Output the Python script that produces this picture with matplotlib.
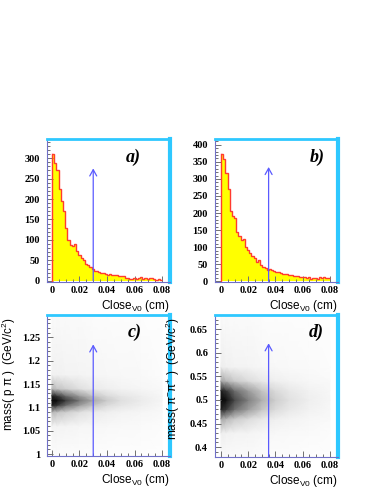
import numpy as np
import matplotlib
matplotlib.use('Agg')
import matplotlib.pyplot as plt
from matplotlib.ticker import MultipleLocator, FixedLocator, FixedFormatter

# histogram of Close_V0, 50 bins between 0 and 0.08 cm
hist_edges = np.linspace(0, 0.08, 51)
hist_a = [310, 289, 271, 225, 195, 170, 128, 100, 88, 86,
          90, 72, 63, 56, 52, 40, 38, 33, 30, 25,
          24, 22, 20, 18, 17, 15, 16, 14, 13, 14,
          12, 11, 12, 8, 6, 5, 5, 6, 5, 7,
          9, 5, 6, 4, 7, 6, 5, 3, 4, 2]
hist_b = [373, 358, 318, 270, 205, 190, 185, 145, 132, 122,
          125, 100, 92, 82, 75, 68, 58, 62, 48, 42,
          38, 33, 35, 32, 30, 27, 28, 24, 22, 20,
          21, 19, 18, 17, 15, 16, 14, 12, 14, 10,
          12, 8, 9, 11, 8, 13, 9, 12, 10, 10]

# scatter density (darkness 0..1)
dens_x = [0, 0.004, 0.01, 0.02, 0.03, 0.04, 0.05, 0.065, 0.08]
dens_y_c = [0.995, 1.06, 1.09, 1.105, 1.115, 1.125, 1.14, 1.17, 1.30]
dens_c = [
    [0.03, 0.03, 0.03, 0.03, 0.02, 0.02, 0.02, 0.02, 0.01],
    [0.10, 0.10, 0.09, 0.08, 0.07, 0.06, 0.05, 0.04, 0.03],
    [0.40, 0.35, 0.30, 0.22, 0.16, 0.13, 0.10, 0.08, 0.05],
    [0.88, 0.82, 0.65, 0.48, 0.34, 0.24, 0.18, 0.13, 0.07],
    [0.97, 0.95, 0.82, 0.62, 0.44, 0.32, 0.22, 0.15, 0.08],
    [0.88, 0.82, 0.65, 0.48, 0.34, 0.24, 0.18, 0.13, 0.07],
    [0.40, 0.35, 0.30, 0.22, 0.16, 0.13, 0.10, 0.08, 0.05],
    [0.12, 0.12, 0.10, 0.09, 0.08, 0.07, 0.06, 0.05, 0.03],
    [0.04, 0.04, 0.04, 0.04, 0.03, 0.03, 0.03, 0.02, 0.02],
]
dens_y_d = [0.379, 0.43, 0.46, 0.48, 0.50, 0.52, 0.54, 0.57, 0.68]
dens_d = [
    [0.04, 0.04, 0.04, 0.04, 0.03, 0.03, 0.03, 0.02, 0.02],
    [0.14, 0.12, 0.10, 0.09, 0.07, 0.06, 0.05, 0.04, 0.03],
    [0.45, 0.40, 0.32, 0.24, 0.17, 0.13, 0.10, 0.07, 0.05],
    [0.88, 0.82, 0.64, 0.48, 0.34, 0.24, 0.17, 0.11, 0.07],
    [0.97, 0.94, 0.78, 0.58, 0.42, 0.30, 0.21, 0.13, 0.08],
    [0.88, 0.82, 0.64, 0.48, 0.34, 0.24, 0.17, 0.11, 0.07],
    [0.45, 0.40, 0.32, 0.24, 0.17, 0.13, 0.10, 0.07, 0.05],
    [0.14, 0.12, 0.10, 0.09, 0.07, 0.06, 0.05, 0.04, 0.03],
    [0.04, 0.04, 0.04, 0.04, 0.03, 0.03, 0.03, 0.02, 0.02],
]

# cut positions (arrows)
cut_x = [0.030, 0.035, 0.030, 0.035]
cut_top = [275, 335, 1.235, 0.62]

x_ticks = [0, 0.02, 0.04, 0.06, 0.08]
x_ticklabels = ['0', '0.02', '0.04', '0.06', '0.08']
y_ticks_a = [0, 50, 100, 150, 200, 250, 300]
y_ticks_b = [0, 50, 100, 150, 200, 250, 300, 350, 400]
y_ticks_c = [1, 1.05, 1.1, 1.15, 1.2, 1.25]
y_ticklabels_c = ['1', '1.05', '1.1', '1.15', '1.2', '1.25']
y_ticks_d = [0.4, 0.45, 0.5, 0.55, 0.6, 0.65]
y_ticklabels_d = ['0.4', '0.45', '0.5', '0.55', '0.6', '0.65']

panel_tags = ['a)', 'b)', 'c)', 'd)']
xlabel = r'Close$_{\mathregular{V0}}$ (cm)'
ylabel_c = r'mass( p $\mathregular{\pi}$ )  (GeV/c$^{\mathregular{2}}$)'
ylabel_d = r'mass( π$^{\mathregular{-}}$π$^{\mathregular{+}}$ )  (GeV/c$^{\mathregular{2}}$)'

sans = ['Liberation Sans', 'DejaVu Sans']
serif = ['Liberation Serif', 'DejaVu Serif']

fig = plt.figure(figsize=(3.83, 4.95), dpi=100)
W, H = 383.0, 495.0


def make_axes(x0, x1, y0, y1):
    return fig.add_axes([x0 / W, 1 - y1 / H, (x1 - x0) / W, (y1 - y0) / H])


ax_a = make_axes(47, 170, 139, 282)
ax_b = make_axes(215, 338, 139, 282)
ax_c = make_axes(47, 170, 315, 456)
ax_d = make_axes(215, 338, 315, 457)
axes = [ax_a, ax_b, ax_c, ax_d]

arrow_color = '#5a5aff'

for ax, h in [(ax_a, hist_a), (ax_b, hist_b)]:
    ax.stairs(h, hist_edges, fill=True, color='#ffff00', zorder=1)
    ax.stairs(h, hist_edges, color='#ff3b2f', lw=1.0, baseline=None, zorder=2)
    ax.plot([0, 0], [0, h[0]], color='#ff3b2f', lw=1.0, zorder=2)

ax_a.set_ylim(-3, 347)
ax_b.set_ylim(-2, 417)

ax_c.pcolormesh(dens_x, dens_y_c, dens_c, cmap='Greys', vmin=0, vmax=1,
                shading='gouraud', zorder=1)
ax_d.pcolormesh(dens_x, dens_y_d, dens_d, cmap='Greys', vmin=0, vmax=1,
                shading='gouraud', zorder=1)
ax_c.set_ylim(0.996, 1.298)
ax_d.set_ylim(0.379, 0.68)

ax_a.set_xlim(-0.0036, 0.0858)
ax_c.set_xlim(-0.0036, 0.0858)
ax_b.set_xlim(-0.0044, 0.086)
ax_d.set_xlim(-0.0044, 0.086)

y_ticks = [y_ticks_a, y_ticks_b, y_ticks_c, y_ticks_d]
y_labels = [[str(v) for v in y_ticks_a], [str(v) for v in y_ticks_b],
            y_ticklabels_c, y_ticklabels_d]
y_minor = [10, 10, 0.01, 0.01]
tag_pos = [(0.70, 0.875), (0.83, 0.875), (0.71, 0.88), (0.82, 0.88)]

for i, ax in enumerate(axes):
    ax.xaxis.set_major_locator(FixedLocator(x_ticks))
    ax.xaxis.set_major_formatter(FixedFormatter(x_ticklabels))
    ax.xaxis.set_minor_locator(MultipleLocator(0.005))
    ax.yaxis.set_major_locator(FixedLocator(y_ticks[i]))
    ax.yaxis.set_major_formatter(FixedFormatter(y_labels[i]))
    ax.yaxis.set_minor_locator(MultipleLocator(y_minor[i]))
    ax.tick_params(which='both', direction='in', color='#707070', width=0.7)
    ax.tick_params(which='major', length=4.5, pad=3)
    ax.tick_params(which='minor', length=2.2)
    ax.tick_params(axis='y', which='major', pad=5)
    for lab in ax.get_xticklabels() + ax.get_yticklabels():
        lab.set_fontfamily(serif)
        lab.set_fontweight('bold')
        lab.set_fontsize(7.5)
    for side in ['left', 'bottom']:
        ax.spines[side].set_color('#7070c8')
        ax.spines[side].set_linewidth(0.8)
    ax.spines['top'].set_color('#2ec8ff')
    ax.spines['top'].set_linewidth(2.0)
    ax.spines['right'].set_color('#2ec8ff')
    ax.spines['right'].set_linewidth(3.0)

    ymin = ax.get_ylim()[0] if i >= 2 else 0
    ax.annotate('', xy=(cut_x[i], cut_top[i]), xytext=(cut_x[i], ymin),
                arrowprops=dict(arrowstyle='->, head_length=0.45, head_width=0.25',
                                color=arrow_color, lw=0.9, shrinkA=0, shrinkB=0),
                zorder=3)
    ax.text(tag_pos[i][0], tag_pos[i][1], panel_tags[i], transform=ax.transAxes,
            ha='center', va='center', fontsize=13, fontweight='bold',
            fontstyle='italic', family=serif)
    ax.set_xlabel(xlabel, loc='right', fontsize=8.5, family=sans, labelpad=2)

ax_c.set_ylabel(ylabel_c, loc='top', fontsize=8.5, family=sans)
ax_c.yaxis.set_label_coords(-0.235, 0.98)
ax_d.set_ylabel(ylabel_d, loc='top', fontsize=8.5, family=sans)
ax_d.yaxis.set_label_coords(-0.27, 0.98)

fig.savefig('out.png', dpi=100)
plt.close(fig)
